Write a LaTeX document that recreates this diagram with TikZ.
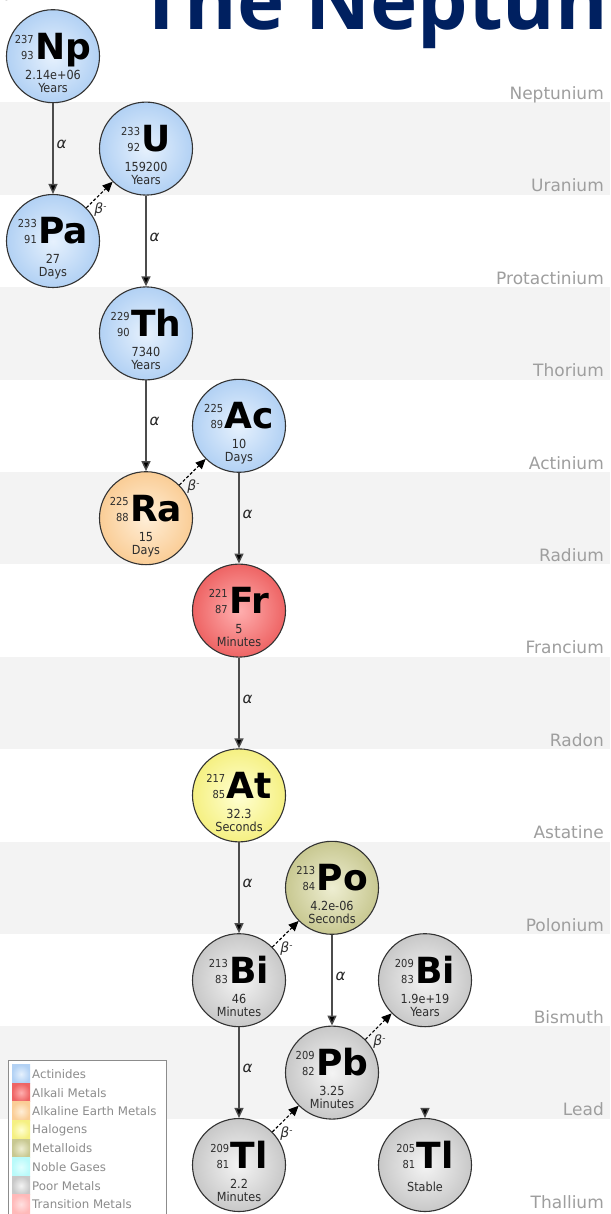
\documentclass[tikz,border=0pt]{standalone}
\usepackage{fontspec}
\setmainfont{DejaVu Sans}
\newfontfamily\condfont{DejaVu Sans Condensed}
\newfontfamily\titlefont{Open Sans}
\usetikzlibrary{arrows.meta,calc}

\definecolor{navy}{RGB}{0,32,96}
\definecolor{bandgray}{RGB}{243,243,243}
\definecolor{elemgray}{RGB}{158,158,158}
\definecolor{numcol}{RGB}{45,45,45}
\definecolor{legline}{RGB}{140,140,140}
\definecolor{actinIn}{RGB}{230,241,253}
\definecolor{actinOut}{RGB}{178,209,244}
\definecolor{alkaliIn}{RGB}{255,175,175}
\definecolor{alkaliOut}{RGB}{238,100,100}
\definecolor{alkearthIn}{RGB}{255,238,215}
\definecolor{alkearthOut}{RGB}{250,205,150}
\definecolor{halIn}{RGB}{255,255,210}
\definecolor{halOut}{RGB}{245,240,130}
\definecolor{metIn}{RGB}{238,238,210}
\definecolor{metOut}{RGB}{200,200,145}
\definecolor{nobleIn}{RGB}{225,255,255}
\definecolor{nobleOut}{RGB}{185,250,250}
\definecolor{poorIn}{RGB}{244,244,244}
\definecolor{poorOut}{RGB}{200,200,200}
\definecolor{transIn}{RGB}{255,225,225}
\definecolor{transOut}{RGB}{255,185,185}

\newcommand\nucnum[2]{{\condfont\fontsize{11}{16}\selectfont\begin{tabular}[b]{@{}r@{}}#1\\#2\end{tabular}}}
\newcommand\symf{\color{black}\bfseries\fontsize{36}{36}\selectfont}
\newcommand\hlf{\condfont\fontsize{12.5}{13}\selectfont}

\tikzset{
  nuc/.style={circle, minimum size=93pt, inner sep=0pt, draw=black!80, line width=1.1pt},
  actin/.style={inner color=actinIn, outer color=actinOut},
  alkali/.style={inner color=alkaliIn, outer color=alkaliOut},
  alkearth/.style={inner color=alkearthIn, outer color=alkearthOut},
  hal/.style={inner color=halIn, outer color=halOut},
  met/.style={inner color=metIn, outer color=metOut},
  poor/.style={inner color=poorIn, outer color=poorOut},
  txt/.style={anchor=base, inner sep=0pt, text=numcol},
  alphaarr/.style={draw=black!70, line width=1.4pt, -{Triangle[length=10pt,width=9pt,fill=black]}},
  betaarr/.style={draw=black, line width=1.1pt, dash pattern=on 3pt off 2pt, -{Triangle[length=10pt,width=9pt,fill=black]}},
  alab/.style={midway, anchor=west, xshift=3pt, yshift=4pt, inner sep=0pt, font=\itshape\fontsize{15}{15}\selectfont, text=black!85},
  blab/.style={pos=0.25, anchor=north west, inner sep=1pt, font=\fontsize{14}{14}\selectfont, text=black!80},
  elem/.style={anchor=base east, inner sep=0pt, font=\fontsize{17}{18}\selectfont, text=elemgray},
  swatch/.style={minimum width=18pt, minimum height=18.6pt, inner sep=0pt},
  legtxt/.style={anchor=west, inner sep=0pt, font=\fontsize{11.8}{12}\selectfont, text=black!45},
}

\newcommand\isotope[9]{%
  \node[nuc,#4] (#1) at (#2,#3) {};
  \node[txt] (#1-s) at ($(#1.center)+(0,3)$) {\nucnum{#5}{#6}\kern1.5pt{\symf #7}};
  \node[txt,font=\hlf] (#1-h) at ($(#1.center)+(0,23)$) {#8};
  \node[txt,font=\hlf] (#1-u) at ($(#1.center)+(0,36)$) {#9};
}

\begin{document}
\begin{tikzpicture}[x=1pt,y=-1pt]
\useasboundingbox (0,0) rectangle (610,1214);
\fill[white] (0,0) rectangle (610,1214);
% bands
\foreach \k in {1,3,5,7,9,11}
  \fill[bandgray] (0,{10+92.4*\k}) rectangle (610,{10+92.4*(\k+1)});
% title
\begin{scope}
\clip (0,0) rectangle (610,1214);
\node[anchor=base west, inner sep=0pt, text=navy, font=\titlefont\bfseries\fontsize{80}{80}\selectfont] (title) at (138,30) {The Neptunium Series};
\end{scope}
% element names
\foreach \n [count=\k from 0] in {Neptunium,Uranium,Protactinium,Thorium,Actinium,Radium,Francium,Radon,Astatine,Polonium,Bismuth,Lead,Thallium}
  \node[elem] (el-\k) at (604,{10+92.4*(\k+1)-3}) {\n};

% isotopes
\isotope{np}{53}{56.2}{actin}{237}{93}{Np}{2.14e+06}{Years}
\isotope{u}{146}{148.6}{actin}{233}{92}{U}{159200}{Years}
\isotope{pa}{53}{241}{actin}{233}{91}{Pa}{27}{Days}
\isotope{th}{146}{333.4}{actin}{229}{90}{Th}{7340}{Years}
\isotope{ac}{239}{425.8}{actin}{225}{89}{Ac}{10}{Days}
\isotope{ra}{146}{518.2}{alkearth}{225}{88}{Ra}{15}{Days}
\isotope{fr}{239}{610.6}{alkali}{221}{87}{Fr}{5}{Minutes}
\isotope{at}{239}{795.4}{hal}{217}{85}{At}{32.3}{Seconds}
\isotope{po}{332}{887.8}{met}{213}{84}{Po}{4.2e-06}{Seconds}
\isotope{bia}{239}{980.2}{poor}{213}{83}{Bi}{46}{Minutes}
\isotope{bib}{425}{980.2}{poor}{209}{83}{Bi}{1.9e+19}{Years}
\isotope{pb}{332}{1072.6}{poor}{209}{82}{Pb}{3.25}{Minutes}
\isotope{tla}{239}{1165}{poor}{209}{81}{Tl}{2.2}{Minutes}
\node[nuc,poor] (tlb) at (425,1165) {};
\node[txt] (tlb-s) at ($(tlb.center)+(0,3)$) {\nucnum{205}{81}\kern1.5pt{\symf Tl}};
\node[txt,font=\hlf] (tlb-h) at ($(tlb.center)+(0,26)$) {Stable};

% alpha decays
\draw[alphaarr] (np) -- node[alab] (a1) {α} (pa);
\draw[alphaarr] (u) -- node[alab] (a2) {α} (th);
\draw[alphaarr] (th) -- node[alab] (a3) {α} (ra);
\draw[alphaarr] (ac) -- node[alab] (a4) {α} (fr);
\draw[alphaarr] (fr) -- node[alab] (a5) {α} (at);
\draw[alphaarr] (at) -- node[alab] (a6) {α} (bia);
\draw[alphaarr] (po) -- node[alab] (a7) {α} (pb);
\draw[alphaarr] (bia) -- node[alab] (a8) {α} (tla);
\draw[alphaarr, shorten <=84pt] (bib) -- (tlb);
\node[alab, at={($(bib.south)!0.5!(tlb.north)$)}] (a9) {α};

% beta decays
\draw[betaarr] (pa) -- node[blab] (b1) {\textit{β}\raisebox{4pt}{\fontsize{9}{9}\selectfont -}} (u);
\draw[betaarr] (ra) -- node[blab] (b2) {\textit{β}\raisebox{4pt}{\fontsize{9}{9}\selectfont -}} (ac);
\draw[betaarr] (bia) -- node[blab] (b3) {\textit{β}\raisebox{4pt}{\fontsize{9}{9}\selectfont -}} (po);
\draw[betaarr] (pb) -- node[blab] (b4) {\textit{β}\raisebox{4pt}{\fontsize{9}{9}\selectfont -}} (bib);
\draw[betaarr] (tla) -- node[blab] (b5) {\textit{β}\raisebox{4pt}{\fontsize{9}{9}\selectfont -}} (pb);

% legend
\node[draw=legline, fill=white, line width=0.9pt, minimum width=158pt, minimum height=175pt, anchor=north west, inner sep=0pt] (legend) at (8,1060) {};
\begin{scope}
\clip (8,1060) rectangle (166,1214);
\foreach \cc/\lt [count=\i from 0] in {actin/Actinides,alkali/Alkali Metals,alkearth/Alkaline Earth Metals,hal/Halogens,met/Metalloids,noble/Noble Gases,poor/Poor Metals,trans/Transition Metals}{
  \node[swatch, inner color=\cc In, outer color=\cc Out] (sw-\i) at (21,{1074+18.6*\i}) {};
  \node[legtxt] (lt-\i) at (32,{1074+18.6*\i}) {\lt};
}
\end{scope}
\end{tikzpicture}
\end{document}
